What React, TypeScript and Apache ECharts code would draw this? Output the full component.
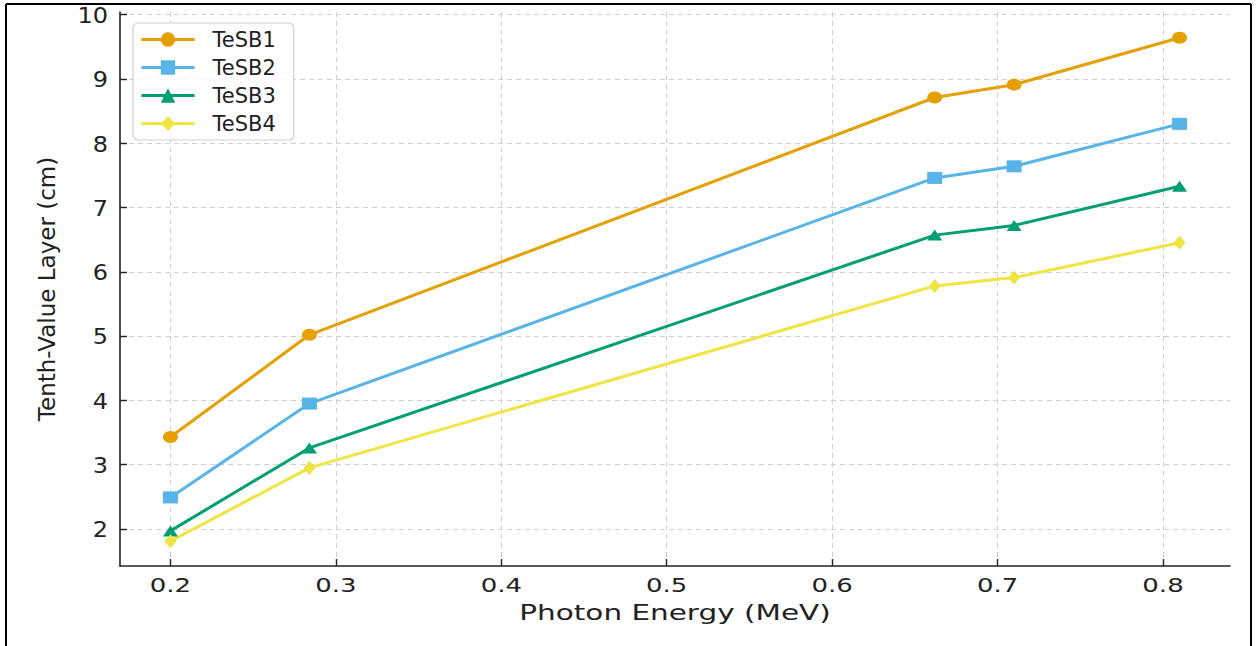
import React, { useEffect, useRef } from "react";
import * as echarts from "echarts";

const seriesNames = ["TeSB1", "TeSB2", "TeSB3", "TeSB4"];
const energies = [0.2, 0.284, 0.662, 0.71, 0.81];
const tesb1 = [3.43, 5.02, 8.71, 8.91, 9.64];
const tesb2 = [2.49, 3.95, 7.46, 7.64, 8.30];
const tesb3 = [1.97, 3.26, 6.57, 6.72, 7.33];
const tesb4 = [1.81, 2.95, 5.78, 5.91, 6.45];
const xTicks = [0.2, 0.3, 0.4, 0.5, 0.6, 0.7, 0.8];
const yTicks = [2, 3, 4, 5, 6, 7, 8, 9, 10];
const xTitle = "Photon Energy (MeV)";
const yTitle = "Tenth-Value Layer (cm)";

const colors = ["#E69F00", "#56B4E9", "#009E73", "#F0E442"];
const symbols = ["circle", "rect", "triangle", "diamond"];
const symbolSizes = [[15, 12], [15, 12], [15, 11], [12, 14]];

const X_MIN = 0.1695;
const X_MAX = 0.8405;
const Y_MIN = 1.424;
const Y_MAX = 10.04;

export default function App() {
  const ref = useRef<HTMLDivElement>(null);
  useEffect(() => {
    if (!ref.current) return;
    const chart = echarts.init(ref.current, null, { renderer: "svg" });
    const values = [tesb1, tesb2, tesb3, tesb4];
    const font = "DejaVu Sans";
    const textColor = "#222";
    chart.setOption({
      animation: false,
      backgroundColor: "#ffffff",
      grid: { left: 120, right: 26, top: 12, bottom: 80, containLabel: false },
      xAxis: {
        type: "value",
        min: X_MIN,
        max: X_MAX,
        axisLine: { show: true, onZero: false, lineStyle: { color: "#222", width: 1.6 } },
        axisTick: { show: true, inside: true, length: 7, customValues: xTicks, lineStyle: { color: "#222", width: 1.4 } },
        axisLabel: { show: false, customValues: xTicks },
        splitLine: { show: true, lineStyle: { color: "#cfcfcf", width: 1, type: [5, 4] } },
      },
      yAxis: {
        type: "value",
        min: Y_MIN,
        max: Y_MAX,
        name: yTitle,
        nameLocation: "middle",
        nameGap: 62,
        nameTextStyle: { fontFamily: font, fontSize: 23, color: textColor },
        axisLine: { show: true, onZero: false, lineStyle: { color: "#222", width: 1.6 } },
        axisTick: { show: true, inside: true, length: 7, customValues: yTicks, lineStyle: { color: "#222", width: 1.4 } },
        axisLabel: { show: false, customValues: yTicks },
        splitLine: { show: true, lineStyle: { color: "#cfcfcf", width: 1, type: [5, 4] } },
      },
      legend: {
        show: true,
        orient: "vertical",
        left: 133,
        top: 23,
        padding: [6, 18, 6, 7],
        itemWidth: 53,
        itemHeight: 18,
        itemGap: 7,
        borderColor: "#d0d0d0",
        borderWidth: 1.2,
        borderRadius: 5,
        backgroundColor: "rgba(255,255,255,0.85)",
        lineStyle: { width: 3 },
        textStyle: { fontFamily: font, fontSize: 21, color: textColor, lineHeight: 20, padding: [0, 0, 0, 13] },
        data: seriesNames,
      },
      series: seriesNames.map((name, i) => ({
        name,
        type: "line",
        data: energies.map((x, j) => [x, values[i][j]]),
        symbol: symbols[i],
        symbolSize: symbolSizes[i],
        showAllSymbol: true,
        color: colors[i],
        lineStyle: { color: colors[i], width: 3 },
        itemStyle: { color: colors[i] },
        emphasis: { disabled: true },
      })),
    });

    const labels: any[] = [];
    xTicks.forEach((v) => {
      const p = chart.convertToPixel({ gridIndex: 0 }, [v, Y_MIN]) as number[];
      labels.push({
        type: "text",
        x: p[0],
        y: p[1] + 19,
        scaleX: 1.3,
        style: {
          text: String(v),
          font: `20px '${font}'`,
          fill: textColor,
          align: "center",
          verticalAlign: "middle",
        },
      });
    });
    yTicks.forEach((v) => {
      const p = chart.convertToPixel({ gridIndex: 0 }, [X_MIN, v]) as number[];
      labels.push({
        type: "text",
        x: p[0] - 12,
        y: p[1] + 1,
        scaleX: 1.17,
        style: {
          text: String(v),
          font: `20.5px '${font}'`,
          fill: textColor,
          align: "right",
          verticalAlign: "middle",
        },
      });
    });
    const xMid = chart.convertToPixel({ gridIndex: 0 }, [(X_MIN + X_MAX) / 2, Y_MIN]) as number[];
    labels.push({
      type: "text",
      x: xMid[0],
      y: xMid[1] + 46,
      scaleX: 1.34,
      style: {
        text: xTitle,
        font: `22px '${font}'`,
        fill: textColor,
        align: "center",
        verticalAlign: "middle",
      },
    });

    chart.setOption({
      graphic: [
        ...labels,
        { type: "line", shape: { x1: 6, y1: 4, x2: 1251, y2: 4 }, style: { stroke: "#000", lineWidth: 2 } },
        { type: "line", shape: { x1: 6, y1: 4, x2: 6, y2: 646 }, style: { stroke: "#000", lineWidth: 2 } },
        { type: "line", shape: { x1: 1251, y1: 4, x2: 1251, y2: 646 }, style: { stroke: "#000", lineWidth: 2 } },
      ],
    });
    return () => chart.dispose();
  }, []);
  return (
    <div
      ref={ref}
      style={{ position: "fixed", left: 0, top: 0, width: 1256, height: 646, background: "#fff" }}
    />
  );
}
